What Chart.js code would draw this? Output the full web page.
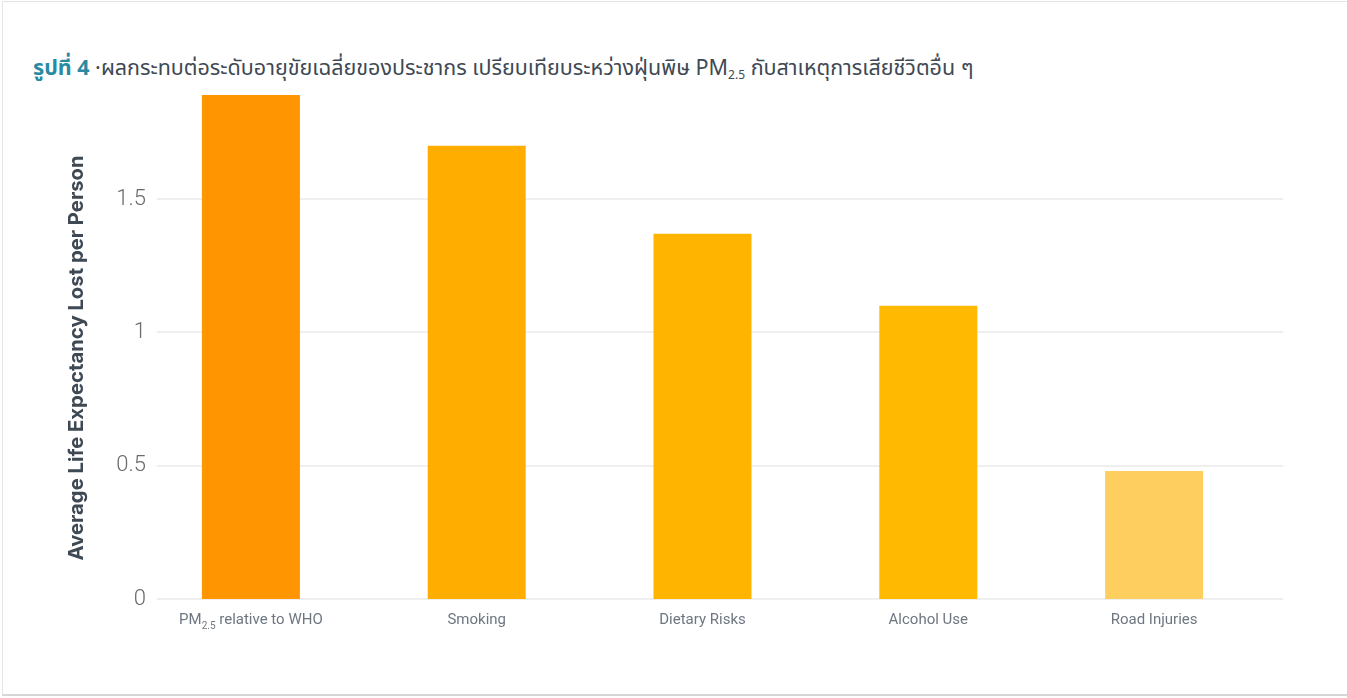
<!DOCTYPE html>
<html lang="th">
<head>
<meta charset="utf-8">
<title>รูปที่ 4</title>
<script src="https://cdn.jsdelivr.net/npm/chart.js@4.4.1/dist/chart.umd.min.js"></script>
<style>
  html, body { margin: 0; padding: 0; background: #fff; width: 1347px; height: 698px; overflow: hidden; }
  #frame { position: absolute; left: 2px; top: 1px; width: 1346px; height: 695px; box-sizing: border-box;
           border: 1px solid #e4e4e4; border-right: none; border-bottom: 2px solid #d4d6d8; }
  #title { position: absolute; left: 33px; top: 54px; white-space: nowrap;
           font-family: "Noto Sans Thai", "Noto Sans Thai UI", "Noto Sans", sans-serif;
           font-size: 21.5px; line-height: 30px; color: #3e4954; }
  #title b { color: #2a8aa1; font-weight: 700; }
  #title sub { font-size: 12px; vertical-align: -4px; line-height: 0; }
  #wrap { position: absolute; left: 0; top: 0; width: 1347px; height: 698px; }
</style>
</head>
<body>
<div id="frame"></div>
<div id="title"><b>รูปที่ 4</b> ·ผลกระทบต่อระดับอายุขัยเฉลี่ยของประชากร เปรียบเทียบระหว่างฝุ่นพิษ PM<sub>2.5</sub> กับสาเหตุการเสียชีวิตอื่น ๆ</div>
<div id="wrap"><canvas id="chart" width="1347" height="698"></canvas></div>
<script>
// Categories; "_{...}" marks a subscript in a label
const categories = ['PM_{2.5} relative to WHO', 'Smoking', 'Dietary Risks', 'Alcohol Use', 'Road Injuries'];
// Average life expectancy lost per person (years)
const lifeExpectancyLost = [1.89, 1.70, 1.37, 1.10, 0.48];
const barColors = ['#ff9500', '#ffae00', '#ffb400', '#ffb900', '#fecf5e'];
const yTickValues = [0, 0.5, 1, 1.5];
const yTickLabels = ['0', '0.5', '1', '1.5'];
const yAxisTitle = 'Average Life Expectancy Lost per Person';

const labelFont = '15px Roboto, "Liberation Sans", sans-serif';
const subFont = '10px Roboto, "Liberation Sans", sans-serif';

// draws text where "_{...}" segments are set as subscripts, centred on x
function drawRichLabel(ctx, text, x, y) {
  const parts = text.split(/_\{([^}]*)\}/);
  const segs = parts.map((t, i) => ({ t, sub: i % 2 === 1 }));
  let total = 0;
  segs.forEach(s => { ctx.font = s.sub ? subFont : labelFont; s.w = ctx.measureText(s.t).width; total += s.w; });
  let cx = x - total / 2;
  ctx.textAlign = 'left';
  ctx.textBaseline = 'alphabetic';
  segs.forEach(s => {
    ctx.font = s.sub ? subFont : labelFont;
    ctx.fillText(s.t, cx, s.sub ? y + 5 : y);
    cx += s.w;
  });
}

const decorations = {
  id: 'decorations',
  beforeDatasetsDraw(chart) {
    const { ctx, scales: { y } } = chart;
    ctx.save();
    ctx.strokeStyle = '#efefef';
    ctx.lineWidth = 2;
    yTickValues.forEach(v => {
      const py = Math.round(y.getPixelForValue(v));
      ctx.beginPath();
      ctx.moveTo(157, py);
      ctx.lineTo(1283, py);
      ctx.stroke();
    });
    ctx.restore();
  },
  afterDraw(chart) {
    const { ctx, chartArea, scales: { x, y } } = chart;
    ctx.save();
    // category labels under the bars
    ctx.fillStyle = '#6e7781';
    categories.forEach((c, i) => drawRichLabel(ctx, c, x.getPixelForValue(i), chartArea.bottom + 25));
    // value labels beside the gridlines
    ctx.font = '300 22px Roboto, "Liberation Sans", sans-serif';
    ctx.fillStyle = '#6a6a6a';
    ctx.textAlign = 'right';
    ctx.textBaseline = 'middle';
    yTickValues.forEach((v, i) => ctx.fillText(yTickLabels[i], 146, y.getPixelForValue(v)));
    // vertical axis title
    ctx.translate(77, (chartArea.top + chartArea.bottom) / 2 + 11);
    ctx.rotate(-Math.PI / 2);
    ctx.font = 'bold 20.3px Inter, "Liberation Sans", sans-serif';
    ctx.fillStyle = '#3e4954';
    ctx.textAlign = 'center';
    ctx.textBaseline = 'middle';
    ctx.fillText(yAxisTitle, 0, 0);
    ctx.restore();
  }
};

new Chart(document.getElementById('chart'), {
  type: 'bar',
  data: {
    labels: categories,
    datasets: [{
      data: lifeExpectancyLost,
      backgroundColor: barColors,
      borderWidth: 0,
      categoryPercentage: 1,
      barPercentage: 0.434
    }]
  },
  options: {
    responsive: false,
    animation: false,
    layout: { padding: { left: 0, top: 95, right: 80, bottom: 99 } },
    plugins: { legend: { display: false }, tooltip: { enabled: false }, title: { display: false } },
    scales: {
      x: {
        ticks: { display: false },
        grid: { display: false, drawTicks: false },
        border: { display: false },
        afterFit(s) { s.height = 0; }
      },
      y: {
        min: 0,
        max: 1.89,
        afterBuildTicks(axis) { axis.ticks = yTickValues.map(v => ({ value: v })); },
        ticks: { display: false },
        grid: { display: false, drawTicks: false },
        border: { display: false },
        afterFit(s) { s.width = 138; }
      }
    }
  },
  plugins: [decorations]
});
</script>
</body>
</html>
